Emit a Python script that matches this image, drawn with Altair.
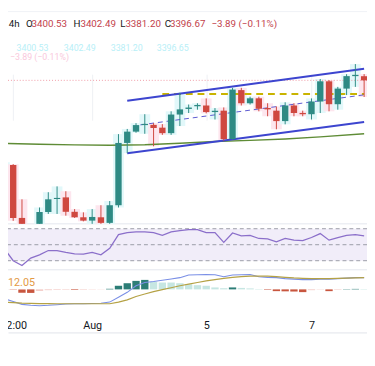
import altair as alt
import pandas as pd

# ---------------- data ----------------
idx = list(range(42))
opens = [3314.2, 3317.9, 3268.8, 3250.5, 3259.0, 3274.3, 3286.4, 3287.9, 3274.5, 3269.4,
         3266.3, 3269.4, 3264.2, 3280.6, 3338.5, 3349.0, 3355.1, 3355.3, 3352.7, 3347.6,
         3364.9, 3370.1, 3372.6, 3373.3, 3367.2, 3368.5, 3342.1, 3387.6, 3375.4, 3380.0,
         3371.0, 3368.5, 3358.8, 3373.3, 3366.4, 3365.2, 3377.0, 3395.8, 3374.5, 3389.0,
         3400.6, 3400.53]
highs = [3320.6, 3318.8, 3286.1, 3262.0, 3278.5, 3292.7, 3298.1, 3293.6, 3277.0, 3274.0,
         3277.0, 3280.6, 3284.5, 3346.7, 3351.5, 3356.9, 3365.2, 3356.9, 3356.0, 3367.9,
         3385.1, 3374.2, 3375.4, 3379.9, 3370.9, 3371.5, 3389.7, 3389.7, 3381.5, 3381.5,
         3375.4, 3372.4, 3376.3, 3375.4, 3368.5, 3379.9, 3397.9, 3396.9, 3390.6, 3402.4,
         3411.8, 3402.49]
lows = [3311.5, 3266.1, 3248.0, 3246.0, 3256.0, 3272.5, 3272.5, 3270.9, 3268.8, 3265.6,
        3262.5, 3263.3, 3262.5, 3278.5, 3329.0, 3348.0, 3347.0, 3335.4, 3346.0, 3346.0,
        3354.2, 3366.3, 3369.4, 3366.0, 3360.3, 3340.6, 3341.5, 3373.3, 3374.2, 3367.9,
        3363.3, 3351.2, 3355.8, 3363.3, 3363.3, 3360.3, 3366.3, 3367.9, 3369.4, 3383.0,
        3390.6, 3381.20]
closes = [3317.9, 3268.8, 3250.0, 3259.0, 3274.3, 3286.1, 3287.4, 3274.5, 3269.4, 3266.3,
          3269.7, 3264.2, 3280.6, 3338.5, 3349.0, 3355.1, 3356.2, 3352.4, 3347.6, 3364.9,
          3369.7, 3371.4, 3373.8, 3367.2, 3368.4, 3342.1, 3388.1, 3375.4, 3380.0, 3370.3,
          3369.7, 3358.8, 3373.3, 3366.3, 3365.2, 3377.0, 3395.8, 3374.5, 3389.0, 3400.6,
          3401.8, 3396.67]

rsi = [45.0, 30.0, 23.9, 33.3, 37.3, 42.7, 42.7, 40.3, 38.6, 38.2,
       40.3, 37.3, 45.5, 62.7, 65.1, 66.0, 66.0, 65.1, 61.8, 66.0,
       67.6, 68.8, 68.8, 65.1, 65.1, 52.9, 64.7, 61.1, 61.8, 57.8,
       57.4, 53.7, 57.8, 55.7, 55.0, 59.0, 63.9, 55.7, 59.0, 61.8,
       62.7, 61.1]
rsi_levels = [70, 50, 30]

macd = [-9.5, -12.5, -15.3, -16.3, -16.7, -16.3, -15.7, -15.0, -14.7, -14.7,
        -14.5, -14.2, -13.0, -8.0, -3.0, 3.7, 7.0, 8.0, 9.3, 10.7,
        12.0, 14.7, 15.0, 15.3, 15.0, 13.0, 14.7, 15.0, 15.3, 13.0,
        12.3, 12.0, 11.0, 10.5, 10.0, 10.0, 10.3, 10.5, 11.0, 11.5,
        12.0, 12.0]
signal = [-13.0, -13.5, -14.0, -14.3, -14.5, -14.6, -14.7, -14.7, -14.7, -14.7,
          -14.7, -14.7, -14.7, -13.0, -10.7, -7.3, -4.7, -2.3, -0.3, 1.7,
          3.7, 5.3, 7.0, 8.7, 10.0, 11.3, 12.3, 13.0, 13.5, 13.7,
          13.5, 13.0, 12.3, 11.7, 11.3, 11.0, 11.0, 11.0, 11.3, 11.5,
          11.7, 12.0]
hist = [0.5, -0.3, -3.5, -3.6, -1.5, -0.8, -0.6, -0.5, -0.6, -0.5,
        -0.3, -0.2, 0.6, 3.7, 6.3, 8.7, 9.7, 7.7, 7.0, 7.0,
        6.3, 5.3, 4.3, 3.7, 2.0, 1.2, 2.0, 1.5, 1.0, 0.4,
        -0.5, -1.8, -2.0, -2.2, -2.8, -0.8, -0.3, -1.8, -0.5, 0.3,
        0.5, 0.4]

ma_idx = [0, 4, 8, 12, 16, 20, 24, 28, 32, 36, 41]
ma_val = [3338.1, 3337.3, 3336.7, 3336.3, 3336.8, 3338.2, 3339.8, 3340.9, 3342.2, 3344.1, 3347.0]

chan_idx = [14, 41, 14, 41]
chan_val = [3377.8, 3407.5, 3329.0, 3358.0]
chan_key = ["upper", "upper", "lower", "lower"]
mid_idx = [15.5, 41]
mid_val = [3355.3, 3383.2]
level_idx = [18, 41]
level_val = [3383.9, 3383.9]
last_price = 3396.67

tick_idx = [1, 10, 23, 35]
tick_lab = ["12:00", "Aug", "5", "7"]

# ---------------- frames ----------------
df = pd.DataFrame(dict(i=idx, o=opens, h=highs, l=lows, c=closes))
ind = pd.DataFrame(dict(i=idx, rsi=rsi, macd=macd, sig=signal, hist=hist))
prev = [0.0] + hist[:-1]
ind["hcat"] = [
    ("up_strong" if v > p else "up_weak") if v >= 0 else ("dn_strong" if v < p else "dn_weak")
    for v, p in zip(hist, prev)
]
ma_df = pd.DataFrame(dict(i=ma_idx, v=ma_val))
chan_df = pd.DataFrame(dict(i=chan_idx, v=chan_val, k=chan_key))
mid_df = pd.DataFrame(dict(i=mid_idx, v=mid_val))
lvl_df = pd.DataFrame(dict(i=level_idx, v=level_val))

W, H = 367, 328
FONT = "Roboto"
UP, DN = "#2e8a84", "#cf4840"

lab_expr = " : ".join(f"datum.value == {t} ? '{s}'" for t, s in zip(tick_idx, tick_lab)) + " : ''"
xaxis = alt.Axis(values=tick_idx, labelExpr=lab_expr, grid=True, gridColor="#eef0f4",
                 domain=True, domainColor="#e0e3eb", ticks=False, labelPadding=-7,
                 labelBaseline="middle", labelFont=FONT, labelFontSize=11,
                 labelColor="#131722", labelFlush=False, labelOverlap=False,
                 labelBound=False, title=None)
xs = alt.Scale(domain=[0.965, 40.77], nice=False, zero=False)


def X(field="i"):
    return alt.X(f"{field}:Q", scale=xs, axis=xaxis)


price_scale = alt.Scale(domain=[3263.3, 3460.6], range=[217, 0], clamp=True, nice=False, zero=False)
rsi_scale = alt.Scale(domain=[18.6, 76.1], range=[264, 217], clamp=True, nice=False, zero=False)
macd_scale = alt.Scale(domain=[-20, 20], range=[304, 264], clamp=True, nice=False, zero=False)


def PY(f):
    return alt.Y(f"{f}:Q", scale=price_scale, axis=None)


def RY(f):
    return alt.Y(f"{f}:Q", scale=rsi_scale, axis=None)


def MY(f):
    return alt.Y(f"{f}:Q", scale=macd_scale, axis=None)


updown = alt.condition("datum.c >= datum.o", alt.value(UP), alt.value(DN))
halo_col = alt.condition("datum.c >= datum.o", alt.value("#e2f8fa"), alt.value("#fde6ee"))

layers = []

# RSI panel
band = pd.DataFrame(dict(i=[0], i2=[42], top=[70], bot=[30]))
layers.append(alt.Chart(band).mark_rect(color="#f1edf9").encode(x=X(), x2="i2:Q", y=RY("top"), y2="bot:Q"))
layers.append(alt.Chart(pd.DataFrame(dict(lv=rsi_levels))).mark_rule(
    color="#9a9ca6", strokeDash=[4, 3], strokeWidth=1).encode(y=RY("lv")))
layers.append(alt.Chart(ind).mark_line(color="#8b6fca", strokeWidth=1.3).encode(x=X(), y=RY("rsi")))

# MACD panel
hist_colors = alt.Scale(domain=["up_strong", "up_weak", "dn_strong", "dn_weak"],
                        range=["#2c7d76", "#c6e6e2", "#c8563f", "#f3c7c2"])
layers.append(alt.Chart(ind).transform_calculate(z="0").mark_bar(size=7.5).encode(
    x=X(), y=MY("hist"), y2="z:Q", color=alt.Color("hcat:N", scale=hist_colors, legend=None)))
layers.append(alt.Chart(ind).mark_line(color="#7a8fe6", strokeWidth=1.1).encode(x=X(), y=MY("macd")))
layers.append(alt.Chart(ind).mark_line(color="#b5a245", strokeWidth=1.2).encode(x=X(), y=MY("sig")))

# separators
for yy in [0, 217, 264]:
    layers.append(alt.Chart(pd.DataFrame(dict(a=[0]))).mark_rule(
        color="#e3e6ee" if yy else "#f0f2f6", strokeWidth=1).encode(y=alt.value(yy)))

# price panel
layers.append(alt.Chart(df).mark_bar(size=11).encode(x=X(), y=PY("l"), y2="h:Q", color=halo_col))
layers.append(alt.Chart(ma_df).mark_line(color="#5f8c36", strokeWidth=1.4).encode(x=X(), y=PY("v")))
layers.append(alt.Chart(pd.DataFrame(dict(p=[last_price]))).mark_rule(
    color="#f09aa5", strokeDash=[1, 2], strokeWidth=1).encode(y=PY("p")))
layers.append(alt.Chart(lvl_df).mark_line(color="#c9b400", strokeWidth=2, strokeDash=[7, 5]).encode(
    x=X(), y=PY("v")))
layers.append(alt.Chart(mid_df).mark_line(color="#5b58d0", strokeWidth=1, strokeDash=[5, 4]).encode(
    x=X(), y=PY("v")))
layers.append(alt.Chart(chan_df).mark_line(color="#3d45cf", strokeWidth=2).encode(
    x=X(), y=PY("v"), detail="k:N"))
layers.append(alt.Chart(df).mark_rule(strokeWidth=1).encode(x=X(), y=PY("l"), y2="h:Q", color=updown))
layers.append(alt.Chart(df).mark_bar(size=6.5).encode(x=X(), y=PY("o"), y2="c:Q", color=updown))


# text annotations
def txt(t, x, y, color, size=10, align="left", weight="normal"):
    return alt.Chart(pd.DataFrame(dict(t=[t]))).mark_text(
        align=align, baseline="middle", font=FONT, fontSize=size, color=color,
        fontWeight=weight, x=x, y=y).encode(text="t:N")


BLK, RED = "#131722", "#c2414b"
GC, GP = "#b8eff7", "#f9c9dc"
layers += [
    txt("s, 4h", 12, 13, BLK, align="right"),
    txt("O", 18.5, 13, BLK), txt("3400.53", 24.0, 13, RED),
    txt("H", 67.0, 13, BLK), txt("3402.49", 74.0, 13, RED),
    txt("L", 114.7, 13, BLK), txt("3381.20", 120.0, 13, RED),
    txt("C", 160.3, 13, BLK), txt("3396.67", 165.5, 13, RED),
    txt("\u22123.89 (\u22120.11%)", 208, 13, RED),
    txt("3400.53", 8.7, 37, GC, size=9), txt("3402.49", 57, 37, GC, size=9),
    txt("3381.20", 105, 37, GC, size=9), txt("3396.65", 152, 37, GC, size=9),
    txt("\u22123.89 (\u22120.11%)", 2, 47, GP, size=9),
    txt("12.05", 0, 277.7, "#e39a45", size=11),
]

chart = alt.layer(*layers).resolve_scale(y="independent", color="independent").properties(
    width=W, height=H, autosize=alt.AutoSizeParams(type="none"), padding=0,
    background="white",
).configure_view(strokeWidth=0)

chart.save("out.html", embed_options={"renderer": "svg", "actions": False})
